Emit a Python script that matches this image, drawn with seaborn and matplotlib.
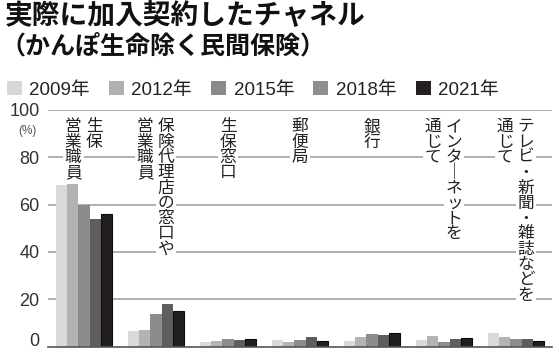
import matplotlib.pyplot as plt
import numpy as np
import pandas as pd
import seaborn as sns
from matplotlib.patches import Patch

# channel labels (vertical Japanese, right column first)
channels = ["生保営業職員", "保険代理店の窓口や営業職員", "生保窓口", "郵便局",
            "銀行", "インターネットを通じて", "テレビ・新聞・雑誌などを通じて"]
label_cols = [("生保", "営業職員"), ("保険代理店の窓口や", "営業職員"), ("生保窓口",),
              ("郵便局",), ("銀行",), ("インタ｜ネットを", "通じて"),
              ("テレビ・新聞・雑誌などを", "通じて")]
years = ["2009年", "2012年", "2015年", "2018年", "2021年"]
y2009 = [68.3, 6.5, 1.7, 2.8, 2.4, 2.7, 5.6]
y2012 = [68.5, 7.0, 2.4, 1.8, 4.2, 4.4, 4.2]
y2015 = [59.8, 13.8, 3.0, 2.6, 5.2, 1.8, 3.2]
y2018 = [53.9, 17.8, 2.9, 4.2, 4.8, 3.1, 3.2]
y2021 = [56.0, 15.0, 3.0, 2.3, 5.8, 3.8, 2.3]
yticks = [0, 20, 40, 60, 80, 100]

bar_colors = ["#d9d9d9", "#b3b3b3", "#8c8c8c", "#5e5e5e", "#231f1f"]
legend_colors = ["#d6d6d6", "#b0b0b0", "#8a8a8a", "#8f8f8f", "#231f1f"]

rows = []
for yr, vals in zip(years, [y2009, y2012, y2015, y2018, y2021]):
    for ch, v in zip(channels, vals):
        rows.append({"channel": ch, "year": yr, "value": v})
df = pd.DataFrame(rows)

sns.set_style("white")
num_font = ['Liberation Sans', 'Noto Sans CJK JP']
plt.rcParams['font.family'] = num_font
jp = ['Noto Sans CJK JP', 'DejaVu Sans']

fig = plt.figure(figsize=(5.59, 3.54), dpi=100)
ax = fig.add_axes([48 / 559, 7.5 / 354, 504 / 559, 236.5 / 354])

for t in yticks[1:]:
    ax.axhline(t, color="#a3a3a3", lw=1.2, zorder=0)

sns.barplot(data=df, x="channel", y="value", hue="year", order=channels,
            hue_order=years, palette=bar_colors, width=0.78, gap=0,
            saturation=1, ax=ax, legend=False, zorder=2)
for i, cont in enumerate(ax.containers):
    for p in cont:
        if i == 4:
            p.set_edgecolor("#0d0b0b")
            p.set_linewidth(0.8)
        else:
            p.set_edgecolor("none")

ax.set_xlim(-0.5, 6.5)
ax.set_ylim(0, 100)
ax.set_yticks(yticks)
ax.set_yticklabels([str(t) for t in yticks], fontsize=13, color="#333333",
                   family=num_font)
ax.get_yticklabels()[0].set_verticalalignment("baseline")
ax.tick_params(axis="y", length=0, pad=6)
ax.set_xticks([])
ax.set_xlabel("")
ax.set_ylabel("")
for s in ["top", "right", "left"]:
    ax.spines[s].set_visible(False)
ax.spines["bottom"].set_color("#555555")
ax.spines["bottom"].set_linewidth(1.2)

# vertical labels
offsets = {1: [0.0], 2: [0.14, -0.15]}
for i, cols in enumerate(label_cols):
    for col, dx in zip(cols, offsets[len(cols)]):
        ax.text(i + dx, 96.5, "\n".join(col), ha="center", va="top",
                fontsize=12, family=jp, color="#222222", linespacing=0.87,
                zorder=3, bbox=dict(facecolor="white", edgecolor="none", pad=1.5))

fig.text(27 / 559, 1 - 131 / 354, "(%)", ha="center", va="center",
         fontsize=8.5, color="#555555")

fig.text(0.008, 1 - 2 / 354, "実際に加入契約したチャネル", ha="left", va="top",
         fontsize=20, fontweight="bold", family=jp, color="#111111")
fig.text(0.0, 1 - 34 / 354, "（かんぽ生命除く民間保険）", ha="left", va="top",
         fontsize=18, fontweight="bold", family=jp, color="#111111")

handles = [Patch(facecolor=c, edgecolor="none") for c in legend_colors]
fig.legend(handles, years, loc="upper left", bbox_to_anchor=(0.012, 1 - 81 / 354),
           ncol=5, frameon=False, handlelength=0.8, handleheight=0.8,
           handletextpad=0.4, columnspacing=1.02, borderaxespad=0, borderpad=0,
           prop={"size": 13.5, "family": num_font},
           labelcolor="#222222")

fig.savefig("out.png", dpi=100)
